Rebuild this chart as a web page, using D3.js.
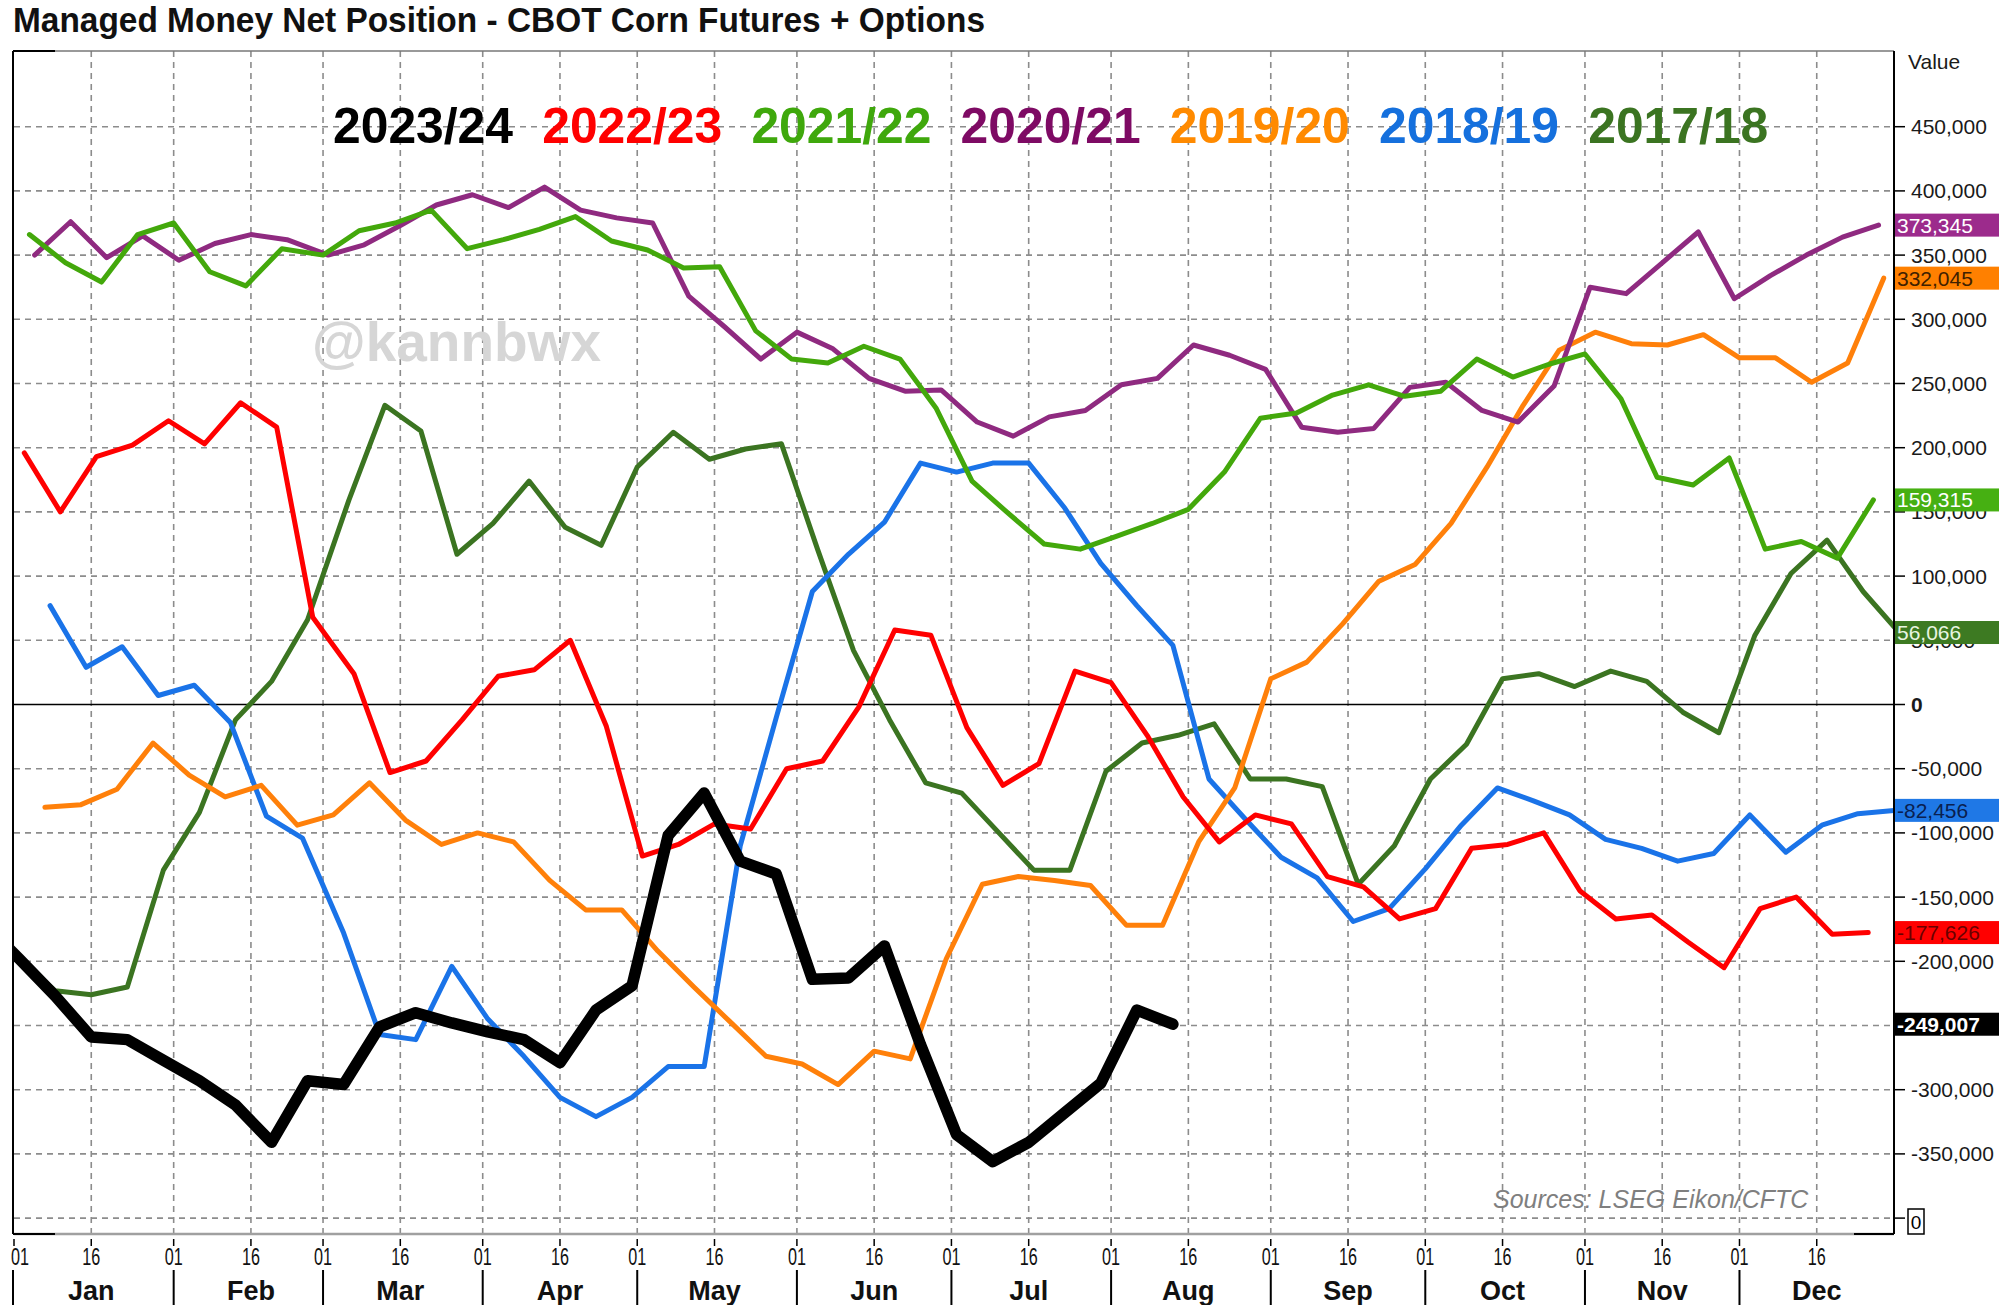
<!DOCTYPE html>
<html><head><meta charset="utf-8">
<script src="https://cdn.jsdelivr.net/npm/d3@7"></script>
<style>body{margin:0;background:#fff;} svg{display:block;}</style>
</head><body>
<svg id="chart" width="1999" height="1305"></svg>
<script>
// ---------------- DATA ----------------
const seriesNames = ["2023/24","2022/23","2021/22","2020/21","2019/20","2018/19","2017/18"];
// first weekly report date of each series (weekly, Tuesdays)
const seriesStart = ["2023-12-26","2023-01-03","2022-01-04","2021-01-05","2020-01-07","2019-01-08","2017-12-26"];

const mm2023_24 = [-170000,-198000,-227000,-259000,-261000,-277000,-293000,-312000,-341000,-293000,-296000,-251000,-240000,-248000,-255000,-261000,-279000,-238000,-219000,-102000,-69000,-122000,-132000,-214000,-213000,-188000,-265000,-335000,-356000,-341000,-318000,-295000,-238000,-249007];
const mm2022_23 = [196000,150000,193000,202000,221000,203000,235000,216000,68000,24000,-53000,-44000,-12000,22000,27000,50000,-17000,-118000,-109000,-93000,-97000,-50000,-44000,-2000,58000,54000,-18000,-63000,-46000,26000,17000,-24000,-72000,-107000,-86000,-93000,-134000,-142000,-167000,-159000,-112000,-109000,-100000,-145000,-167000,-164000,-185000,-205000,-159000,-150000,-179000,-177626];
const mm2021_22 = [366000,344000,329000,366000,375000,337000,326000,355000,350000,369000,375000,385000,355000,362000,370000,380000,361000,354000,340000,341000,291000,269000,266000,279000,269000,231000,174000,149000,125000,121000,131000,141000,152000,181000,223000,227000,241000,249000,240000,244000,269000,255000,265000,273000,238000,177000,171000,192000,121000,127000,114000,159315];
const mm2020_21 = [350000,376000,348000,365000,346000,359000,366000,362000,350000,358000,373000,389000,397000,387000,403000,385000,379000,375000,318000,294000,269000,290000,277000,254000,244000,245000,220000,209000,224000,229000,249000,254000,280000,272000,261000,216000,212000,215000,247000,251000,229000,220000,248000,325000,320000,344000,368000,316000,334000,350000,364000,373345];
const mm2019_20 = [-80000,-78000,-66000,-30000,-55000,-72000,-63000,-94000,-86000,-61000,-90000,-109000,-100000,-107000,-137000,-160000,-160000,-192000,-220000,-247000,-274000,-280000,-296000,-270000,-276000,-198000,-140000,-134000,-137000,-141000,-172000,-172000,-107000,-65000,20000,33000,63000,96000,109000,141000,185000,233000,276000,290000,281000,280000,288000,270000,270000,251000,266000,332045];
const mm2018_19 = [77000,29000,45000,7000,15000,-14000,-87000,-104000,-178000,-257000,-261000,-204000,-245000,-274000,-306000,-321000,-306000,-282000,-282000,-110000,-10000,88000,117000,142000,188000,181000,188000,188000,153000,110000,77000,46000,-58000,-89000,-119000,-135000,-169000,-159000,-128000,-94000,-65000,-75000,-86000,-105000,-112000,-122000,-116000,-86000,-115000,-94000,-85000,-82456];
const mm2017_18 = [-175000,-198000,-223000,-226000,-220000,-129000,-84000,-12000,18000,66000,159000,233000,213000,117000,141000,174000,138000,124000,185000,212000,191000,199000,203000,121000,42000,-12000,-61000,-69000,-99000,-129000,-129000,-52000,-30000,-24000,-15000,-58000,-58000,-64000,-140000,-110000,-58000,-31000,20000,24000,14000,26000,18000,-6000,-22000,54000,102000,128000,88000,56066];

const seriesValues = [mm2023_24, mm2022_23, mm2021_22, mm2020_21, mm2019_20, mm2018_19, mm2017_18];

const valueTicks = [450000,400000,350000,300000,250000,200000,150000,100000,50000,0,-50000,-100000,-150000,-200000,-250000,-300000,-350000,-400000];
// tick labels shown on the value axis (-250,000 sits fully under the last-value box)
const valueTickLabels = [450000,400000,350000,300000,250000,200000,150000,100000,50000,0,-50000,-100000,-150000,-200000,-300000,-350000];
const monthLabels = ["Jan","Feb","Mar","Apr","May","Jun","Jul","Aug","Sep","Oct","Nov","Dec"];
const dayLabels = ["01","16"];

// ---------------- STYLE ----------------
const lineColors   = ["#000000","#ff0000","#43a80b","#8f2a80","#ff800a","#1a73e8","#3b7421"];
const legendColors = ["#000000","#ff0000","#3fa80c","#7e0a64","#ff8a00","#1570dd","#3b7421"];
const boxFill      = ["#000000","#ff0000","#46b012","#9c2b8c","#ff8000","#1f78e6","#3d7a22"];
const boxText      = ["#ffffff","#6a0000","#ffffff","#ffffff","#402000","#0a2050","#e8f5e0"];
const lineWidths   = [11.5,5,5,5,5,5,5];

// ---------------- LAYOUT ----------------
const L = 14, R = 1894, T = 51, B = 1234;
const svg = d3.select("#chart");
const fmt = d3.formatLocale({decimal:".",thousands:",",grouping:[3],currency:["",""],minus:"-"}).format(",");

const x = d3.scaleTime().domain([new Date(2024,0,1), new Date(2024,11,31)]).range([L, R]);
const y = d3.scaleLinear().domain([-400000, 450000]).range([1218.1, 126.7]);

svg.append("rect").attr("width",1999).attr("height",1305).attr("fill","#fff");

// title
svg.append("text").attr("x",13).attr("y",32)
  .attr("font-family","'Liberation Sans Narrow','Arial Narrow','Liberation Sans',Arial,sans-serif")
  .attr("font-weight","bold").attr("font-size",35)
  .attr("textLength",972).attr("lengthAdjust","spacingAndGlyphs")
  .attr("fill","#111")
  .text("Managed Money Net Position - CBOT Corn Futures + Options");

// grid
const gridDates = [];
for (let m = 0; m < 12; m++) {
  gridDates.push(new Date(2024, m, 1));
  gridDates.push(new Date(2024, m, 16));
}
const g = svg.append("g");
g.selectAll("line.vg").data(gridDates.filter(d => +d !== +new Date(2024,0,1))).join("line")
  .attr("x1", d => x(d)).attr("x2", d => x(d)).attr("y1", T).attr("y2", B)
  .attr("stroke","#8c8c8c").attr("stroke-width",1.6).attr("stroke-dasharray","6,5");
g.selectAll("line.hg").data(valueTicks.filter(v => v !== 0)).join("line")
  .attr("x1", L).attr("x2", R).attr("y1", d => y(d)).attr("y2", d => y(d))
  .attr("stroke","#8c8c8c").attr("stroke-width",1.6).attr("stroke-dasharray","6,5");

// watermark
svg.append("text").attr("x",312).attr("y",361)
  .attr("font-family","'Liberation Sans',Arial,sans-serif").attr("font-weight","bold")
  .attr("font-size",55).attr("fill","#d6d6d6").text("@kannbwx");

// zero line
svg.append("line").attr("x1",L).attr("x2",R).attr("y1",y(0)).attr("y2",y(0))
  .attr("stroke","#000").attr("stroke-width",1.6);

// clip
svg.append("clipPath").attr("id","plotclip").append("rect")
  .attr("x",L).attr("y",T).attr("width",R-L).attr("height",B-T);

// series data -> points on the common calendar axis
function toPoints(i) {
  const base = 2000 + (+seriesNames[i].split("/")[1]);
  const [Y,M,D] = seriesStart[i].split("-").map(Number);
  const start = new Date(Y, M-1, D);
  return seriesValues[i].map((v, k) => {
    const dt = d3.timeDay.offset(start, 7*k);
    const axisDate = new Date(2024 + (dt.getFullYear() - base), dt.getMonth(), dt.getDate());
    return {date: axisDate, value: v};
  });
}
const line = d3.line().x(d => x(d.date)).y(d => y(d.value));
const lg = svg.append("g").attr("clip-path","url(#plotclip)");
for (let i = seriesNames.length - 1; i >= 0; i--) {
  lg.append("path").datum(toPoints(i)).attr("d", line)
    .attr("fill","none").attr("stroke", lineColors[i]).attr("stroke-width", lineWidths[i])
    .attr("stroke-linejoin","round").attr("stroke-linecap","round");
}

// sources
svg.append("text").attr("x",1493).attr("y",1208)
  .attr("font-family","'Liberation Sans',Arial,sans-serif").attr("font-style","italic")
  .attr("font-size",25).attr("fill","#7f7f7f").text("Sources: LSEG Eikon/CFTC");

// legend
seriesNames.forEach((n, i) => {
  svg.append("text").attr("x", 333 + i*209.2).attr("y",143)
    .attr("font-family","'Liberation Sans',Arial,sans-serif").attr("font-weight","bold")
    .attr("font-size",50).attr("textLength",180).attr("lengthAdjust","spacingAndGlyphs")
    .attr("fill", legendColors[i]).text(n);
});

// frame
svg.append("line").attr("x1",L).attr("x2",R).attr("y1",T).attr("y2",T).attr("stroke","#777").attr("stroke-width",1.5);
svg.append("line").attr("x1",L).attr("x2",R).attr("y1",B).attr("y2",B).attr("stroke","#a0a0a0").attr("stroke-width",2.5);
svg.append("line").attr("x1",L-1).attr("x2",55).attr("y1",T).attr("y2",T).attr("stroke","#000").attr("stroke-width",2);
svg.append("line").attr("x1",L-1).attr("x2",55).attr("y1",B).attr("y2",B).attr("stroke","#000").attr("stroke-width",2);
svg.append("line").attr("x1",1854).attr("x2",R).attr("y1",B).attr("y2",B).attr("stroke","#000").attr("stroke-width",2);
svg.append("line").attr("x1",L-1).attr("x2",L-1).attr("y1",T).attr("y2",B).attr("stroke","#000").attr("stroke-width",2);
svg.append("line").attr("x1",R).attr("x2",R).attr("y1",T).attr("y2",B).attr("stroke","#000").attr("stroke-width",2);

// right value axis
const ya = svg.append("g");
ya.selectAll("line").data(valueTicks).join("line")
  .attr("x1",R).attr("x2",R+11).attr("y1",d=>y(d)).attr("y2",d=>y(d))
  .attr("stroke","#000").attr("stroke-width",1.5);
ya.selectAll("text").data(valueTickLabels).join("text")
  .attr("x",1911).attr("y",d=>y(d)).attr("dy","0.36em")
  .attr("font-family","'Liberation Sans',Arial,sans-serif").attr("font-size",21)
  .attr("font-weight", d => d === 0 ? "bold" : "normal")
  .attr("fill","#1a1a1a").text(d => fmt(d));
svg.append("text").attr("x",1908).attr("y",69)
  .attr("font-family","'Liberation Sans',Arial,sans-serif").attr("font-size",21)
  .attr("fill","#1a1a1a").text("Value");
// boxed zero indicator at bottom
svg.append("rect").attr("x",1908).attr("y",1209).attr("width",16).attr("height",25)
  .attr("fill","#fff").attr("stroke","#000").attr("stroke-width",1.5);
svg.append("text").attr("x",1916).attr("y",1222).attr("dy","0.36em").attr("text-anchor","middle")
  .attr("font-family","'Liberation Sans',Arial,sans-serif").attr("font-size",19).attr("fill","#000").text("0");

// last-value boxes
seriesNames.forEach((n, i) => {
  const vals = seriesValues[i];
  const last = vals[vals.length - 1];
  const yy = y(last);
  svg.append("rect").attr("x",R+1).attr("y",yy-11.5).attr("width",1999-R).attr("height",23)
    .attr("fill", boxFill[i]);
  svg.append("text").attr("x",R+3).attr("y",yy).attr("dy","0.36em")
    .attr("font-family","'Liberation Sans',Arial,sans-serif").attr("font-size",21)
    .attr("font-weight", i === 0 ? "bold" : "normal")
    .attr("fill", boxText[i]).text(fmt(last));
});

// bottom time axis
const xa = svg.append("g");
xa.selectAll("line.tk").data(gridDates).join("line")
  .attr("x1",d=>x(d)).attr("x2",d=>x(d)).attr("y1",B+5).attr("y2",B+12)
  .attr("stroke","#000").attr("stroke-width",1.5);
xa.selectAll("text.dl").data(gridDates).join("text")
  .attr("x",(d,i)=> i === 0 ? x(d)+6 : x(d)).attr("y",1265).attr("text-anchor","middle")
  .attr("font-family","'Liberation Sans Narrow','Arial Narrow','Liberation Sans',Arial,sans-serif")
  .attr("font-size",23).attr("textLength",18).attr("lengthAdjust","spacingAndGlyphs")
  .attr("fill","#111").text((d,i) => dayLabels[i % 2]);
const monthStarts = monthLabels.map((m, i) => new Date(2024, i, 1));
xa.selectAll("line.ms").data(monthStarts).join("line")
  .attr("x1",(d,i)=> i === 0 ? L-1 : x(d)).attr("x2",(d,i)=> i === 0 ? L-1 : x(d))
  .attr("y1",1270).attr("y2",1305).attr("stroke","#000").attr("stroke-width",2);
xa.selectAll("text.ml").data(monthLabels).join("text")
  .attr("x",(m,i)=> x(new Date(2024, i, 16))).attr("y",1300).attr("text-anchor","middle")
  .attr("font-family","'Liberation Sans',Arial,sans-serif").attr("font-weight","bold")
  .attr("font-size",27).attr("fill","#111").text(m => m);
</script>
</body></html>
